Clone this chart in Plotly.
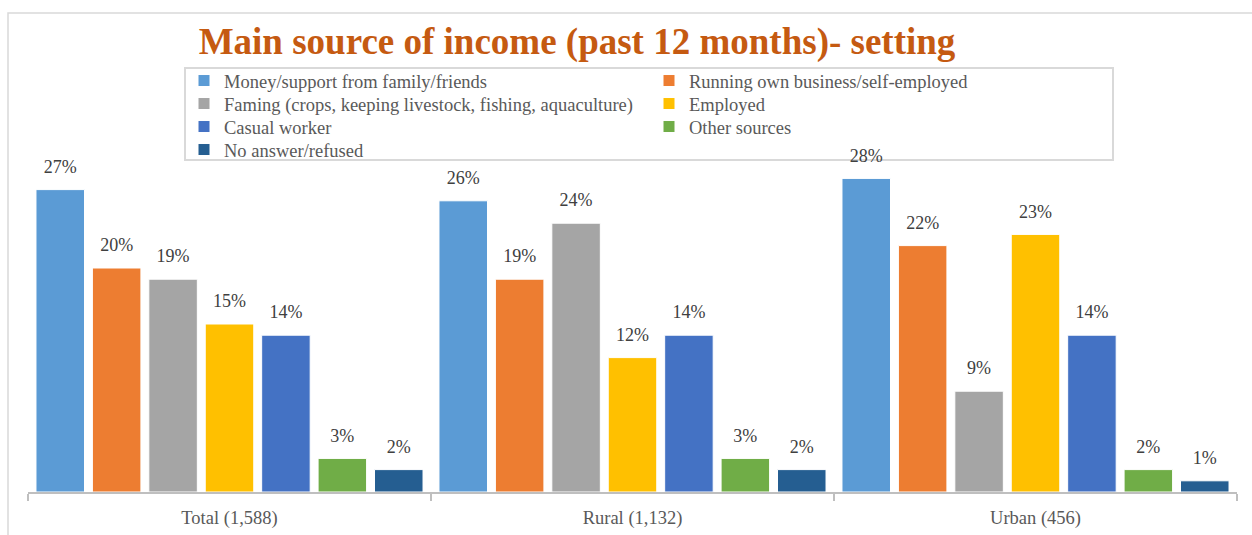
import plotly.graph_objects as go

# Survey groups (x categories) and income-source series
groups = ["Total (1,588)", "Rural (1,132)", "Urban (456)"]
series_names = [
    "Money/support from family/friends",
    "Running own business/self-employed",
    "Faming (crops, keeping livestock, fishing, aquaculture)",
    "Employed",
    "Casual worker",
    "Other sources",
    "No answer/refused",
]
money_support = [27, 26, 28]
own_business = [20, 19, 22]
farming = [19, 24, 9]
employed = [15, 12, 23]
casual_worker = [14, 14, 14]
other_sources = [3, 3, 2]
no_answer = [2, 2, 1]

series_values = [money_support, own_business, farming, employed,
                 casual_worker, other_sources, no_answer]
colors = ["#5B9BD5", "#ED7D31", "#A5A5A5", "#FFC000",
          "#4472C4", "#70AD47", "#255E91"]

W, H = 1252, 535
ML, MR, MT, MB = 28, 15, 150, 43
PW, PH = W - ML - MR, H - MT - MB
BARGAP = 0.02


def px_x(p):
    return (p - ML) / PW


def px_y(p):
    return (H - MB - p) / PH


SERIF = "Liberation Serif"

# two legend entries per row, one legend object per row
legend_ids = ["legend", "legend", "legend2", "legend2",
              "legend3", "legend3", "legend4"]
row_centers = [81, 104, 127, 150]

fig = go.Figure()
for name, vals, col, lg in zip(series_names, series_values, colors, legend_ids):
    fig.add_trace(go.Bar(
        name=name,
        x=groups,
        y=vals,
        marker=dict(color=col, line=dict(color="white", width=1)),
        legend=lg,
        hoverinfo="skip",
    ))

# Value labels: grouped text traces aligned with the bars
for name, vals in zip(series_names, series_values):
    fig.add_trace(go.Scatter(
        x=groups,
        y=vals,
        mode="markers+text",
        text=[f"{v}%" for v in vals],
        textposition="top center",
        textfont=dict(family=SERIF, size=18, color="#404040"),
        marker=dict(size=18, color="rgba(0,0,0,0)"),
        cliponaxis=False,
        showlegend=False,
        hoverinfo="skip",
    ))

legend_style = dict(
    orientation="h",
    x=px_x(184), xanchor="left",
    yanchor="middle",
    entrywidth=420, entrywidthmode="pixels",
    font=dict(family=SERIF, size=18.5, color="#595959"),
    bgcolor="rgba(0,0,0,0)",
    borderwidth=0,
    traceorder="normal",
)
legends = {}
for i, key in enumerate(["legend", "legend2", "legend3", "legend4"]):
    legends[key] = dict(legend_style, y=px_y(row_centers[i]))

fig.update_layout(
    width=W, height=H,
    margin=dict(l=ML, r=MR, t=MT, b=MB),
    paper_bgcolor="white",
    plot_bgcolor="white",
    barmode="group",
    bargap=BARGAP,
    bargroupgap=0.14,
    scattermode="group",
    scattergap=BARGAP,
    title=dict(
        text="<b>Main source of income (past 12 months)- setting</b>",
        x=px_x(577), xref="paper", xanchor="center",
        y=1 - 41 / H, yanchor="middle",
        font=dict(family=SERIF, size=37, color="#C55A11"),
    ),
    xaxis=dict(
        showline=True, linecolor="#BFBFBF", linewidth=2,
        ticks="outside", tickson="boundaries", ticklen=7,
        tickcolor="#BFBFBF", tickwidth=2,
        ticklabelstandoff=8,
        tickfont=dict(family=SERIF, size=18.5, color="#595959"),
        showgrid=False,
        automargin=False,
    ),
    yaxis=dict(
        range=[0, PH / 11.2],
        visible=False, showgrid=False, zeroline=False,
        automargin=False,
    ),
    shapes=[
        # outer chart frame
        dict(
            type="rect", xref="paper", yref="paper",
            x0=px_x(8), x1=px_x(W + 20),
            y0=px_y(H + 20), y1=px_y(13),
            line=dict(color="#D9D9D9", width=1.5),
            fillcolor="rgba(0,0,0,0)",
            layer="below",
        ),
        # legend box
        dict(
            type="rect", xref="paper", yref="paper",
            x0=px_x(185), x1=px_x(1113),
            y0=px_y(160), y1=px_y(68),
            line=dict(color="#D9D9D9", width=2),
            fillcolor="white",
            layer="below",
        ),
    ],
    **legends,
)

fig.write_html("out.html")
